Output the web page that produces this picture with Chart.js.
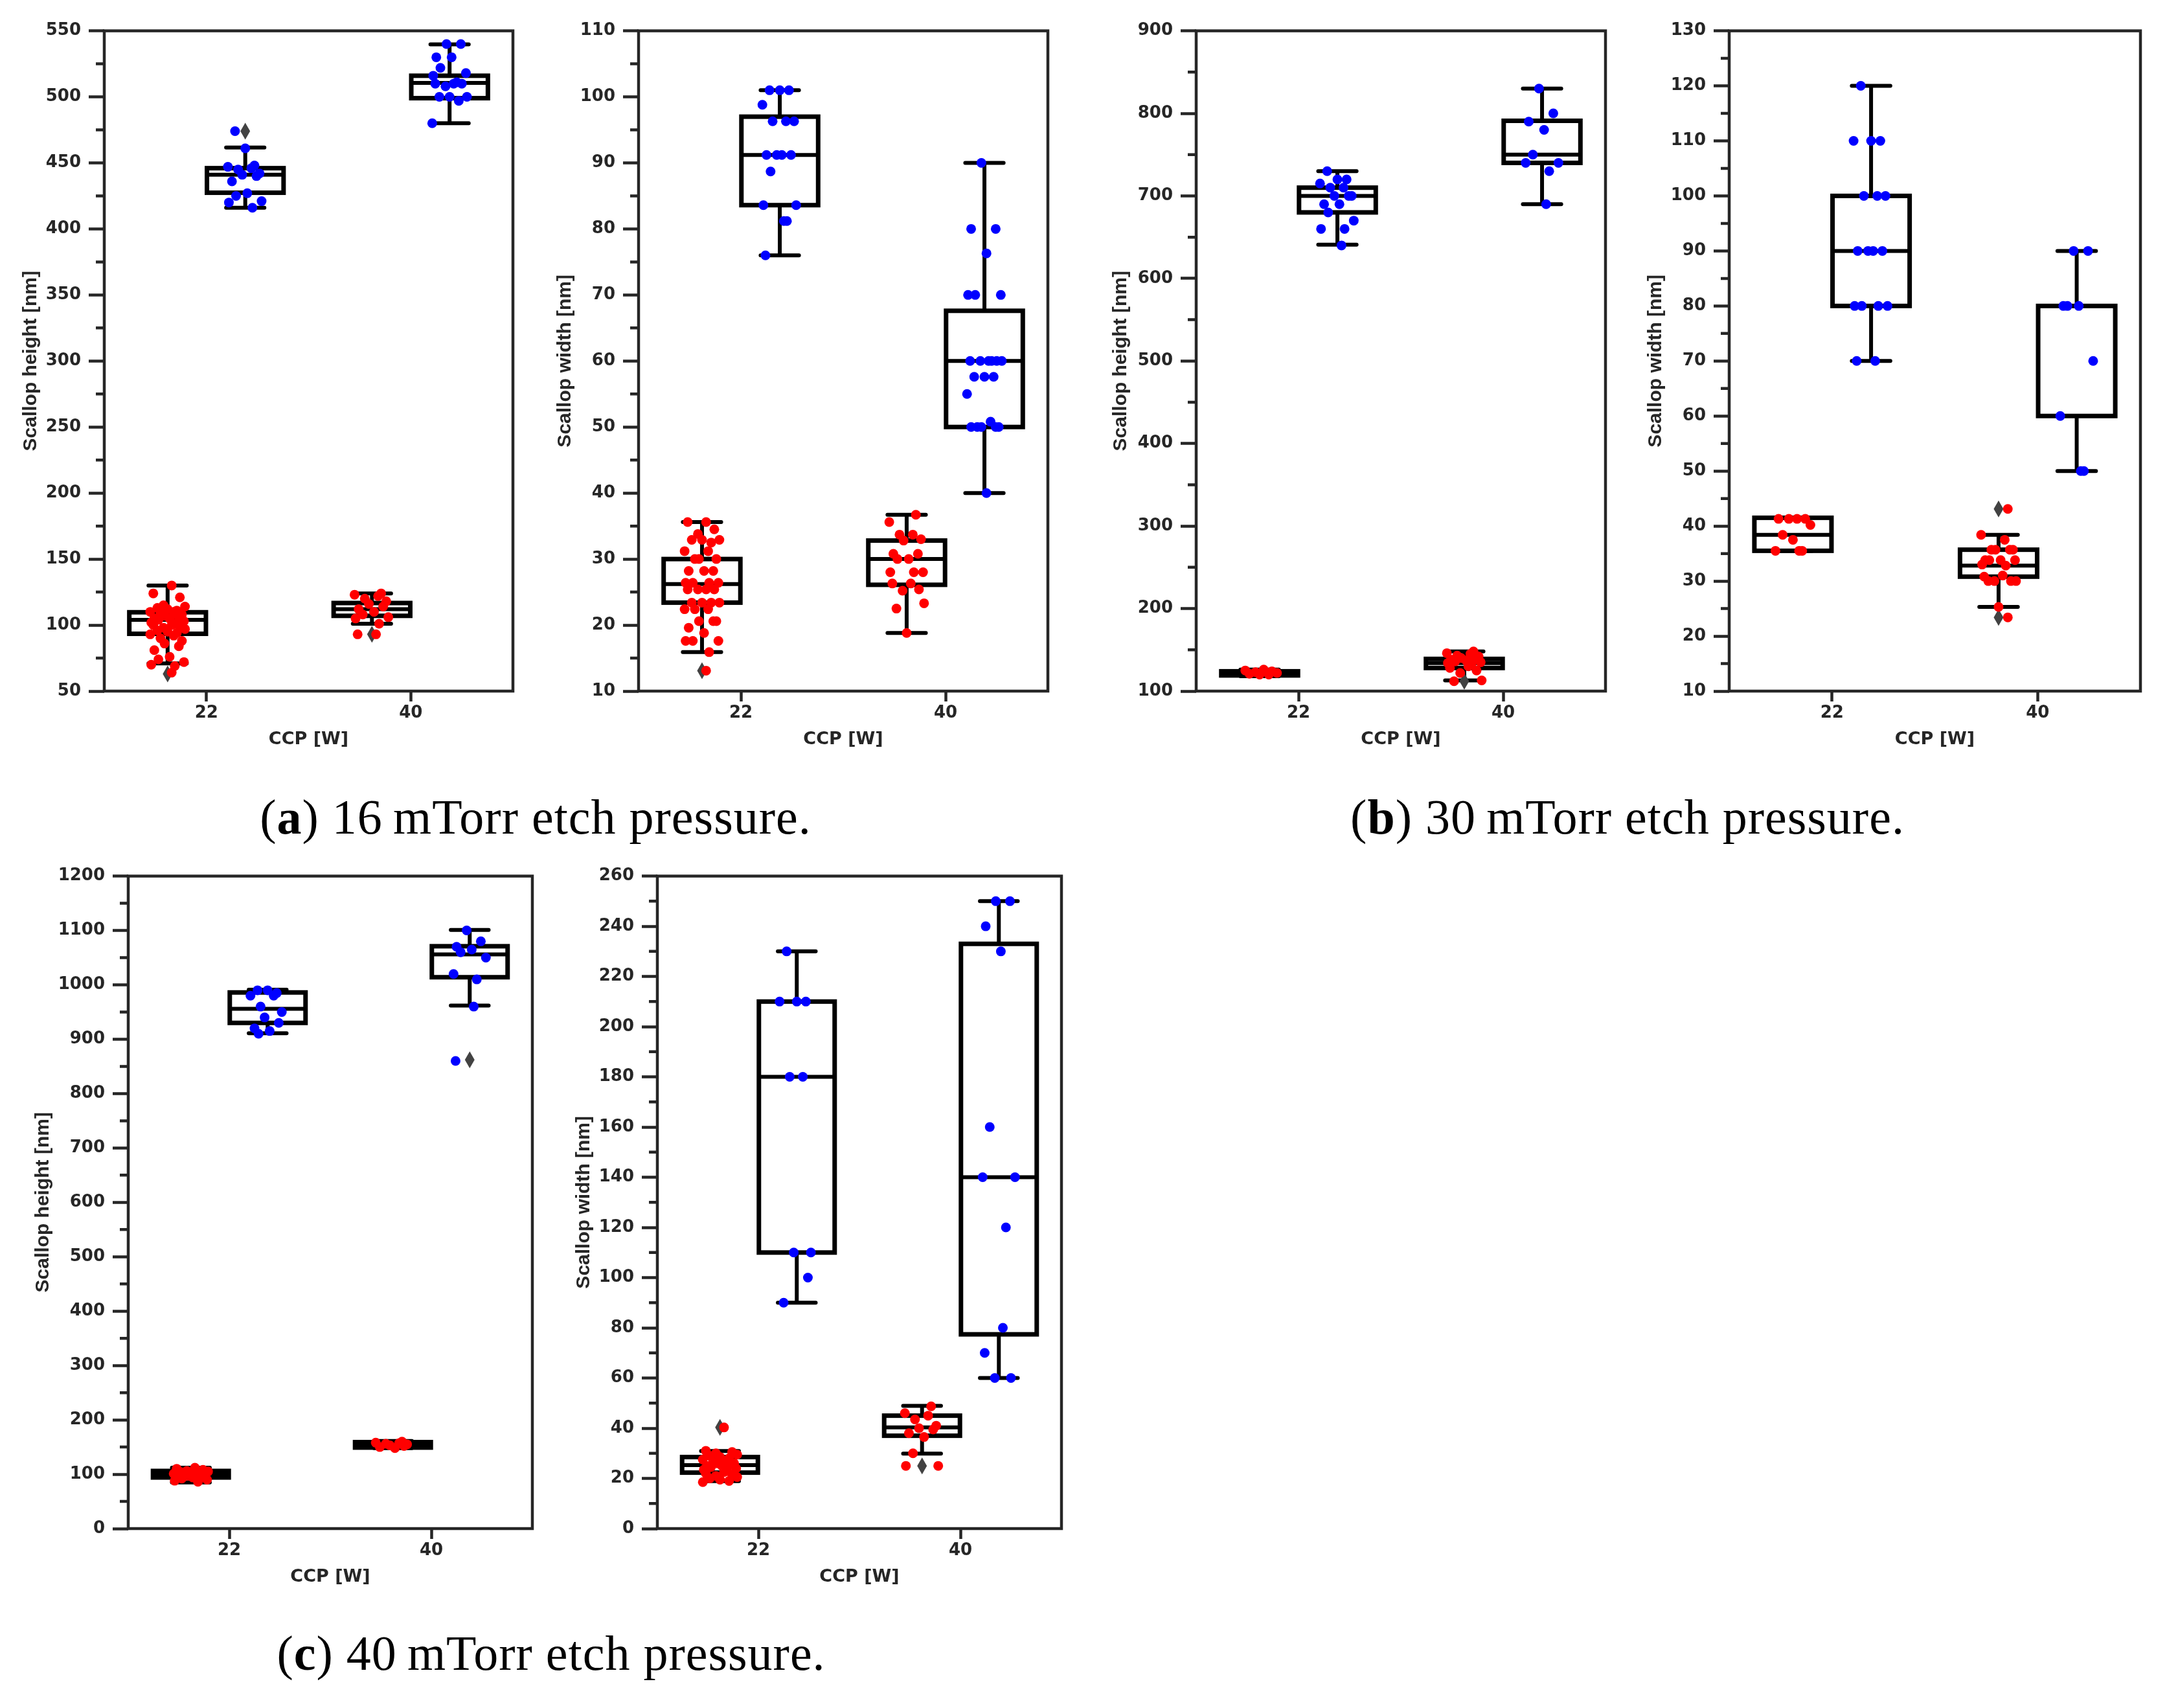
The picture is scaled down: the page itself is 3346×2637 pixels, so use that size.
<!DOCTYPE html>
<html>
<head>
<meta charset="utf-8">
<script src="https://cdn.jsdelivr.net/npm/chart.js@4.4.1/dist/chart.umd.min.js"></script>
<style>
  html, body { margin: 0; padding: 0; background: #fff; }
  #page { position: relative; width: 3346px; height: 2637px; overflow: hidden; background: #fff; }
  canvas { position: absolute; }
  .cap { position: absolute; font-family: "Liberation Serif", serif; font-size: 76px; line-height: 76px;
         letter-spacing: 1px; white-space: nowrap; color: #000; transform: translateX(-50%); }
</style>
</head>
<body>
<div id="page">
  <div class="cap" style="left:827px; top:1223px;">(<b>a</b>) 16&#8201;mTorr etch pressure.</div>
  <div class="cap" style="left:2513px; top:1223px;">(<b>b</b>) 30&#8201;mTorr etch pressure.</div>
  <div class="cap" style="left:851px; top:2514px;">(<b>c</b>) 40&#8201;mTorr etch pressure.</div>
</div>
<script>
// categories on the x axis (CCP power)
const CATS = ['22', '40'];

// ---- (a) 16 mTorr : height ----
const A1_RED = [
  [130, 124, 121, 115, 114, 113, 112, 111, 110, 110, 109, 108, 107, 106, 105, 105, 104, 103, 102, 101,
   100, 100, 99, 98, 97, 96, 95, 94, 93, 92, 90, 88, 86, 84, 81, 76, 74, 72, 70, 69, 64],
  [124, 123, 122, 120, 118, 116, 114, 112, 110, 108, 106, 105, 101, 93, 93]
];
const A1_BLUE = [
  [474, 461, 448, 447, 446, 445, 442, 441, 440, 436, 427, 425, 421, 420, 416],
  [540, 540, 530, 530, 522, 518, 516, 511, 510, 510, 510, 508, 500, 500, 500, 497, 480]
];
// [whisker low, q1, median, q3, whisker high]
const A1_RED_BOX = [[71, 93.4, 104, 109.7, 130], [101, 107, 112, 116.7, 124]];
const A1_BLUE_BOX = [[416, 427.4, 441, 446, 461.6], [480, 499, 510.6, 516, 539.7]];
const A1_RED_OUT = [[63], [93]];
const A1_BLUE_OUT = [[474], []];

// ---- (a) 16 mTorr : width ----
const A2_RED = [
  [35.6, 35.6, 34.5, 33.8, 32.9, 32.9, 32.9, 32.5, 31.2, 31.2, 30, 30, 30, 28.2, 28.2, 28.2, 26.4, 26.4,
   26.4, 26.4, 25.4, 25.4, 25.4, 25.4, 23.4, 23.4, 23.4, 23.4, 22.4, 22.4, 22.4, 20.6, 20.6, 20.6, 19.6,
   18.8, 17.6, 17.6, 17.6, 15.9, 13.1],
  [36.7, 35.6, 33.7, 33.7, 33, 32.8, 30.8, 30.8, 30, 30, 28, 28, 28, 26.3, 26.3, 25.4, 25.2, 23.3, 22.5, 18.8]
];
const A2_BLUE = [
  [101, 101, 101, 98.8, 96.3, 96.3, 96.3, 91.2, 91.2, 91.2, 91.2, 88.7, 83.6, 83.6, 81.2, 81.2, 76],
  [90, 80, 80, 76.3, 70, 70, 70, 60, 60, 60, 60, 60, 60, 57.6, 57.6, 57.6, 55, 50.8, 50, 50, 50, 50, 50, 40]
];
const A2_RED_BOX = [[15.9, 23.4, 26.2, 30.0, 35.6], [18.8, 26.1, 30, 32.8, 36.7]];
const A2_BLUE_BOX = [[76, 83.6, 91.2, 97, 101], [40, 50, 60, 67.6, 90]];
const A2_RED_OUT = [[13.1], []];
const A2_BLUE_OUT = [[], []];

// ---- (b) 30 mTorr : height ----
const B1_RED = [
  [126, 125, 124, 123, 122, 121, 120, 120],
  [148, 146, 145, 143, 142, 140, 139, 138, 137, 136, 135, 134, 133, 130, 128, 125, 122, 113, 112]
];
const B1_BLUE = [
  [730, 720, 720, 715, 710, 710, 700, 700, 700, 690, 690, 680, 670, 660, 660, 640],
  [830, 800, 790, 780, 750, 740, 740, 730, 690]
];
const B1_RED_BOX = [[118, 119, 122, 124, 126], [113, 128, 134, 139, 148]];
const B1_BLUE_BOX = [[641, 680, 700, 710, 730], [690, 740, 750, 791, 830]];
const B1_RED_OUT = [[], [112]];
const B1_BLUE_OUT = [[], []];

// ---- (b) 30 mTorr : width ----
const B2_RED = [
  [41.3, 41.3, 41.3, 41.3, 40.2, 38.4, 37.5, 35.5, 35.5, 35.5],
  [43.1, 38.4, 37.5, 35.7, 35.7, 35.7, 35.7, 33.8, 33.8, 33.8, 33.8, 33, 32.8, 31, 30.8, 30, 30, 30, 30, 25.3, 23.4]
];
const B2_BLUE = [
  [120, 110, 110, 110, 100, 100, 100, 90, 90, 90, 90, 80, 80, 80, 80, 70, 70],
  [90, 90, 80, 80, 80, 70, 60, 50, 50]
];
const B2_RED_BOX = [[35.5, 35.5, 38.4, 41.5, 41.5], [25.3, 30.8, 32.8, 35.7, 38.4]];
const B2_BLUE_BOX = [[70, 80, 90, 100, 120], [50, 60, 80, 80, 90]];
const B2_RED_OUT = [[], [43.1, 23.4]];
const B2_BLUE_OUT = [[], []];

// ---- (c) 40 mTorr : height ----
const C1_RED = [
  [112, 110, 108, 106, 105, 104, 103, 102, 101, 100, 99, 98, 97, 96, 95, 94, 92, 90, 88, 86],
  [160, 158, 157, 156, 155, 153, 152, 150, 148]
];
const C1_BLUE = [
  [990, 990, 985, 980, 980, 960, 950, 940, 930, 920, 915, 910],
  [1100, 1080, 1070, 1065, 1060, 1050, 1020, 1010, 960, 860]
];
const C1_RED_BOX = [[85, 94, 100, 106, 112], [148, 149, 154, 159, 161]];
const C1_BLUE_BOX = [[911, 930, 956, 986, 991], [962, 1014, 1056, 1071, 1101]];
const C1_RED_OUT = [[], []];
const C1_BLUE_OUT = [[], [862]];

// ---- (c) 40 mTorr : width ----
const C2_RED = [
  [40.3, 31, 30.5, 30, 29.5, 29, 28.5, 28, 27.5, 27, 26.5, 26, 26, 25.5, 25, 25, 24.5, 24, 23.5, 23, 22.5,
   22, 21.5, 21, 20.5, 20, 19.5, 19, 18.5],
  [48.7, 46, 45, 43.5, 41, 40, 39.5, 38, 36.5, 30, 25, 25]
];
const C2_BLUE = [
  [230, 210, 210, 210, 180, 180, 110, 110, 100, 90],
  [250, 250, 240, 230, 160, 140, 140, 120, 80, 70, 60, 60]
];
const C2_RED_BOX = [[18.9, 22.3, 25.3, 28.5, 30.9], [29.9, 37, 40.3, 45, 48.9]];
const C2_BLUE_BOX = [[90, 110, 180, 210, 230], [60, 77.4, 140, 233, 250]];
const C2_RED_OUT = [[40.3], [25]];
const C2_BLUE_OUT = [[], []];

// layout of the six panels (plot-area edges in page pixels)
const PANELS = [
  { L: 161, R: 792, T: 45, B: 1067, min: 50, max: 550, step: 50, title: 'Scallop height [nm]', tpad: 29,
    red: A1_RED, blue: A1_BLUE, redBox: A1_RED_BOX, blueBox: A1_BLUE_BOX, redOut: A1_RED_OUT, blueOut: A1_BLUE_OUT },
  { L: 986, R: 1618, T: 45, B: 1067, min: 10, max: 110, step: 10, title: 'Scallop width [nm]', tpad: 29,
    red: A2_RED, blue: A2_BLUE, redBox: A2_RED_BOX, blueBox: A2_BLUE_BOX, redOut: A2_RED_OUT, blueOut: A2_BLUE_OUT },
  { L: 1847, R: 2479, T: 45, B: 1067, min: 100, max: 900, step: 100, title: 'Scallop height [nm]', tpad: 26,
    red: B1_RED, blue: B1_BLUE, redBox: B1_RED_BOX, blueBox: B1_BLUE_BOX, redOut: B1_RED_OUT, blueOut: B1_BLUE_OUT },
  { L: 2670, R: 3305, T: 45, B: 1067, min: 10, max: 130, step: 10, title: 'Scallop width [nm]', tpad: 29,
    red: B2_RED, blue: B2_BLUE, redBox: B2_RED_BOX, blueBox: B2_BLUE_BOX, redOut: B2_RED_OUT, blueOut: B2_BLUE_OUT },
  { L: 198, R: 822, T: 1350, B: 2360, min: 0, max: 1200, step: 100, title: 'Scallop height [nm]', tpad: 11,
    red: C1_RED, blue: C1_BLUE, redBox: C1_RED_BOX, blueBox: C1_BLUE_BOX, redOut: C1_RED_OUT, blueOut: C1_BLUE_OUT },
  { L: 1015, R: 1639, T: 1350, B: 2360, min: 0, max: 260, step: 20, title: 'Scallop width [nm]', tpad: 29,
    red: C2_RED, blue: C2_BLUE, redBox: C2_RED_BOX, blueBox: C2_BLUE_BOX, redOut: C2_RED_OUT, blueOut: C2_BLUE_OUT }
];

// fixed strip-plot jitter pattern (style only)
const JIT = [0.02, -0.07, 0.06, -0.02, 0.085, -0.05, 0.0, 0.045, -0.085, 0.03,
             -0.035, 0.07, -0.015, 0.055, -0.065, 0.01, -0.045, 0.08, -0.08, 0.035];

const AX_W = 160, AX_H = 110, PAD_T = 25, PAD_R = 15;
const DARK = '#262626';
const HUE_OFF = 0.19, HALF_BOX = 0.1875;
const TICK_FONT = { family: 'DejaVu Sans', weight: 'bold', size: 26 };

function strip(groups, off, seed) {
  const pts = [];
  groups.forEach((vals, i) => {
    vals.forEach((v, k) => {
      pts.push({ x: i + off + JIT[(k + seed + i * 7) % JIT.length], y: v });
    });
  });
  return pts;
}

function boxPlugin(p) {
  return {
    id: 'boxes',
    beforeDatasetsDraw(chart) {
      const ctx = chart.ctx, xs = chart.scales.x, ys = chart.scales.y;
      const draw = (boxes, outs, off) => {
        boxes.forEach((b, i) => {
          const c = i + off;
          const x0 = xs.getPixelForValue(c - HALF_BOX), x1 = xs.getPixelForValue(c + HALF_BOX);
          const xc = xs.getPixelForValue(c);
          const cw = (x1 - x0) / 4;
          const [lo, q1, med, q3, hi] = b.map(v => ys.getPixelForValue(v));
          ctx.save();
          ctx.strokeStyle = '#000';
          ctx.lineWidth = 6;
          ctx.lineCap = 'butt';
          ctx.beginPath();
          ctx.moveTo(xc, q3); ctx.lineTo(xc, hi);
          ctx.moveTo(xc, q1); ctx.lineTo(xc, lo);
          ctx.stroke();
          ctx.lineCap = 'round';
          ctx.beginPath();
          ctx.moveTo(xc - cw, hi); ctx.lineTo(xc + cw, hi);
          ctx.moveTo(xc - cw, lo); ctx.lineTo(xc + cw, lo);
          ctx.stroke();
          ctx.lineCap = 'butt';
          ctx.fillStyle = '#fff';
          ctx.lineWidth = 7;
          ctx.fillRect(x0, q3, x1 - x0, q1 - q3);
          ctx.strokeRect(x0, q3, x1 - x0, q1 - q3);
          ctx.lineWidth = 6;
          ctx.beginPath();
          ctx.moveTo(x0, med); ctx.lineTo(x1, med);
          ctx.stroke();
          ctx.fillStyle = '#424242';
          outs[i].forEach(v => {
            const y = ys.getPixelForValue(v);
            ctx.beginPath();
            ctx.moveTo(xc, y - 13); ctx.lineTo(xc + 7.5, y);
            ctx.lineTo(xc, y + 13); ctx.lineTo(xc - 7.5, y);
            ctx.closePath();
            ctx.fill();
          });
          ctx.restore();
        });
      };
      draw(p.redBox, p.redOut, -HUE_OFF);
      draw(p.blueBox, p.blueOut, HUE_OFF);
    },
    afterDraw(chart) {
      const ctx = chart.ctx, a = chart.chartArea, ys = chart.scales.y;
      ctx.save();
      ctx.strokeStyle = DARK;
      ctx.lineWidth = 4.5;
      // minor ticks halfway between the labelled ones
      ctx.beginPath();
      for (let v = p.min + p.step / 2; v < p.max; v += p.step) {
        const y = ys.getPixelForValue(v);
        ctx.moveTo(a.left - 13, y); ctx.lineTo(a.left, y);
      }
      ctx.stroke();
      ctx.strokeRect(a.left, a.top, a.right - a.left, a.bottom - a.top);
      ctx.restore();
    }
  };
}

function makePanel(p) {
  const cv = document.createElement('canvas');
  const w = (p.R - p.L) + AX_W + PAD_R, h = (p.B - p.T) + PAD_T + AX_H;
  cv.width = w; cv.height = h;
  cv.style.left = (p.L - AX_W) + 'px';
  cv.style.top = (p.T - PAD_T) + 'px';
  cv.style.width = w + 'px';
  cv.style.height = h + 'px';
  document.getElementById('page').appendChild(cv);

  new Chart(cv, {
    type: 'scatter',
    data: {
      datasets: [
        { data: strip(p.red, -HUE_OFF, 0), backgroundColor: '#ff0000', pointRadius: 7.5, borderWidth: 0 },
        { data: strip(p.blue, HUE_OFF, 5), backgroundColor: '#0000ff', pointRadius: 7.5, borderWidth: 0 }
      ]
    },
    options: {
      responsive: false,
      animation: false,
      devicePixelRatio: 1,
      layout: { padding: { left: 0, top: PAD_T, right: PAD_R, bottom: 0 } },
      plugins: { legend: { display: false }, tooltip: { enabled: false } },
      scales: {
        x: {
          type: 'linear', min: -0.5, max: 1.5,
          afterBuildTicks: s => { s.ticks = CATS.map((c, i) => ({ value: i })); },
          afterFit: s => { s.height = AX_H; },
          ticks: { callback: v => CATS[v], font: TICK_FONT, color: DARK, padding: 3, maxRotation: 0 },
          grid: { drawOnChartArea: false, tickLength: 16, tickWidth: 4.5, tickColor: DARK },
          border: { display: false },
          title: { display: true, text: 'CCP [W]', color: DARK,
                   font: { family: 'DejaVu Sans', weight: 'bold', size: 27 }, padding: { top: 0, bottom: 19 } }
        },
        y: {
          min: p.min, max: p.max,
          afterFit: s => { s.width = AX_W; },
          ticks: { stepSize: p.step, font: TICK_FONT, color: DARK, padding: 12, callback: v => String(v) },
          grid: { drawOnChartArea: false, tickLength: 24, tickWidth: 4.5, tickColor: DARK },
          border: { display: false },
          title: { display: true, text: p.title, color: DARK,
                   font: { family: 'Liberation Sans', weight: 'bold', size: 30 }, padding: { top: p.tpad, bottom: 0 } }
        }
      }
    },
    plugins: [boxPlugin(p)]
  });
}

PANELS.forEach(makePanel);
</script>
</body>
</html>
